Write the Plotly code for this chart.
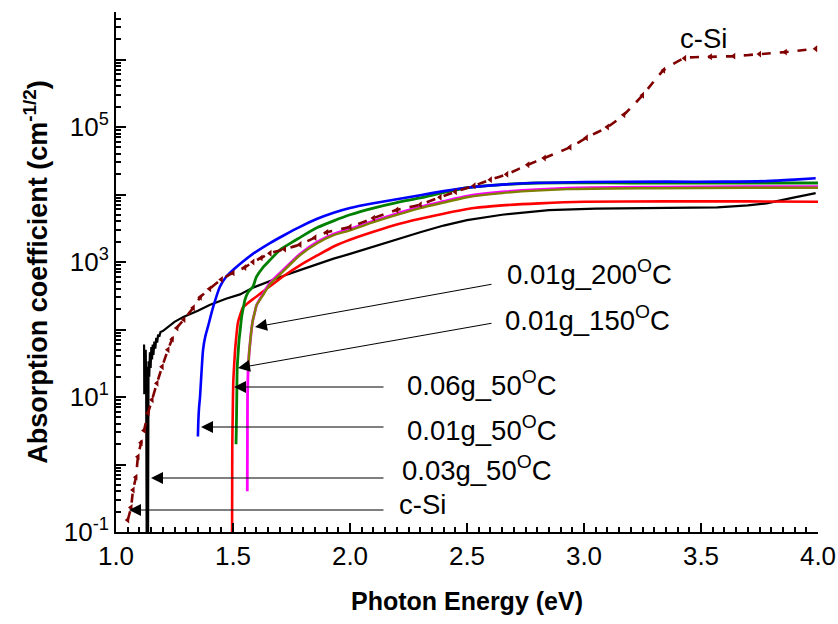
import math
import plotly.graph_objects as go

# ---------------- data (photon energy in eV, absorption coefficient) ----------------
csi_E = [1.050, 1.064, 1.073, 1.085, 1.094, 1.107, 1.120, 1.137, 1.154, 1.175, 1.197,
         1.222, 1.240, 1.260, 1.290, 1.330, 1.360, 1.400, 1.450, 1.500, 1.550, 1.585,
         1.620, 1.658, 1.720, 1.786, 1.850, 1.900, 2.000, 2.100, 2.200, 2.300, 2.385,
         2.450, 2.530, 2.600, 2.670, 2.760, 2.830, 2.940, 3.010, 3.100, 3.170, 3.250,
         3.340, 3.430, 3.540, 3.640, 3.750, 3.860, 3.990]
csi_a = [0.15, 0.23, 0.42, 0.65, 1.3, 2.1, 3.2, 5.8, 9.1, 16, 28,
         50, 72, 105, 140, 210, 300, 400, 550, 690, 830, 1000,
         1150, 1350, 1550, 1820, 2300, 2750, 3300, 4470, 5900, 7080, 9120,
         10960, 13490, 16600, 19950, 27540, 34670, 50120, 69180, 100000, 151400, 295100,
         691800, 1047000, 1096000, 1122000, 1202000, 1288000, 1445000]

g003_E = [1.120, 1.121, 1.123, 1.125, 1.127, 1.129, 1.131, 1.133, 1.134, 1.136, 1.137,
          1.139, 1.142, 1.145, 1.148, 1.151, 1.154, 1.157, 1.160, 1.164, 1.168, 1.172,
          1.176, 1.180, 1.185, 1.190, 1.200, 1.250, 1.290, 1.350, 1.400, 1.470, 1.530,
          1.585, 1.658, 1.720, 1.786, 1.850, 1.930, 2.000, 2.100, 2.200, 2.300, 2.400,
          2.500, 2.650, 2.850, 3.050, 3.210, 3.400, 3.570, 3.700, 3.780, 3.890, 3.990]
g003_a = [60, 11, 42, 18, 50, 14, 0.1, 28, 0.1, 22, 0.1,
          34, 20, 46, 27, 55, 36, 60, 42, 66, 52, 75,
          64, 84, 78, 92, 95, 130, 155, 190, 230, 285, 331,
          417, 525, 631, 759, 912, 1122, 1318, 1698, 2188, 2754, 3467,
          4169, 5012, 5888, 6200, 6300, 6300, 6460, 6900, 7400, 8900, 10500]

g001_50_E = [1.350, 1.352, 1.355, 1.359, 1.365, 1.372, 1.382, 1.393, 1.415, 1.444, 1.470,
             1.500, 1.540, 1.585, 1.658, 1.720, 1.786, 1.860, 1.930, 2.000, 2.100, 2.200,
             2.300, 2.400, 2.500, 2.650, 2.780, 3.000, 3.350, 3.600, 3.780, 3.900, 3.990]
g001_50_a = [2.6, 4.5, 7, 10, 22, 50, 80, 110, 214, 430, 600,
             760, 1000, 1318, 1905, 2512, 3311, 4365, 5370, 6310, 7413, 8511,
             9772, 11220, 12590, 14000, 14800, 15300, 15500, 15500, 15800, 16600, 17400]

g006_50_E = [1.496, 1.4965, 1.497, 1.499, 1.501, 1.505, 1.509, 1.515, 1.521, 1.532, 1.543,
             1.560, 1.585, 1.620, 1.658, 1.720, 1.786, 1.860, 1.930, 2.000, 2.100, 2.200,
             2.300, 2.400, 2.530, 2.650, 2.810, 3.000, 3.350, 3.700, 4.000]
g006_50_a = [0.1, 0.5, 2.0, 6, 16, 30, 50, 85, 126, 170, 214,
             240, 282, 347, 437, 631, 891, 1250, 1700, 2140, 2800, 3600,
             4370, 5200, 6300, 6900, 7400, 7800, 7900, 7900, 7800]

g001_150_E = [1.513, 1.515, 1.516, 1.518, 1.522, 1.526, 1.531, 1.537, 1.544, 1.551, 1.565,
              1.585, 1.600, 1.630, 1.658, 1.700, 1.786, 1.860, 1.930, 2.000, 2.100, 2.200,
              2.300, 2.400, 2.500, 2.650, 2.800, 3.200, 3.600, 4.000]
g001_150_a = [2.0, 5, 9, 27, 45, 70, 100, 155, 210, 275, 360,
              430, 600, 850, 1070, 1500, 2300, 3236, 4074, 5012, 6300, 7600,
              8900, 10700, 12600, 14000, 14800, 14800, 14800, 14800]

mag_E = [1.561, 1.5615, 1.562, 1.563, 1.565, 1.569, 1.573, 1.579, 1.585, 1.593, 1.601,
         1.630, 1.658, 1.700, 1.786, 1.860, 1.930, 2.000, 2.100, 2.200, 2.300, 2.400,
         2.500, 2.650, 2.930, 3.300, 3.700, 4.000]
mag_a = [0.4, 1.5, 9, 15, 27, 45, 63, 100, 138, 180, 230,
         345, 490, 680, 1310, 1980, 2600, 3070, 4050, 5200, 6550, 7900,
         9450, 10900, 12450, 12900, 13100, 13100]

g001_200_E = [1.565, 1.569, 1.573, 1.579, 1.585, 1.593, 1.601, 1.630, 1.658, 1.700, 1.786,
              1.860, 1.930, 2.000, 2.100, 2.200, 2.300, 2.400, 2.500, 2.650, 2.930, 3.300,
              3.700, 4.000]
g001_200_a = [27, 45, 63, 100, 138, 180, 230, 330, 470, 650, 1260,
              1900, 2500, 2950, 3900, 5000, 6300, 7600, 9100, 10500, 12000, 12400,
              12600, 12600]

x_ticks = [1.0, 1.5, 2.0, 2.5, 3.0, 3.5, 4.0]
x_ticktext = ["1.0", "1.5", "2.0", "2.5", "3.0", "3.5", "4.0"]
y_ticks = [0.1, 1, 10, 100, 1e3, 1e4, 1e5, 1e6]
y_ticktext = ["10<sup>-1</sup>", "", "10<sup>1</sup>", "", "10<sup>3</sup>", "", "10<sup>5</sup>", ""]

labels = ["0.01g_200<sup>O</sup>C", "0.01g_150<sup>O</sup>C", "0.06g_50<sup>O</sup>C",
          "0.01g_50<sup>O</sup>C", "0.03g_50<sup>O</sup>C", "c-Si"]

# ---------------- figure ----------------
FONT = "Liberation Sans, Arial, sans-serif"
fig = go.Figure()

def add(E, a, color, width, name, shape="spline"):
    fig.add_trace(go.Scatter(x=E, y=a, mode="lines", name=name,
                             line=dict(color=color, width=width, shape=shape, smoothing=0.6),
                             showlegend=False))

add(g003_E, g003_a, "black", 2.2, "0.03g_50C", shape="linear")
add(g006_50_E, g006_50_a, "#ff0000", 2.6, "0.06g_50C")
add(mag_E, mag_a, "#ff00ff", 2.8, "magenta")
add(g001_200_E, g001_200_a, "#808000", 2.4, "0.01g_200C")
add(g001_150_E, g001_150_a, "#008000", 2.8, "0.01g_150C")
add(g001_50_E, g001_50_a, "#0000ff", 2.6, "0.01g_50C")
fig.add_trace(go.Scatter(x=csi_E, y=csi_a, mode="lines+markers", name="c-Si",
                         line=dict(color="#800000", width=2.6, dash="dash",
                                   shape="spline", smoothing=0.6),
                         marker=dict(symbol="triangle-left", size=6, color="#800000"),
                         showlegend=False))

# pixel -> data helpers for label placement (plot box 116..818 x 12..532)
def ex(px):
    return 1.0 + (px - 116) / 234.0

def ly(py):
    return (532 - py) / 67.5 - 1.0

# arrows: (tip px, tail px)
arrows = [((255, 327), (493, 284)),
          ((238, 368), (493, 323)),
          ((234, 387), (385, 387)),
          ((201, 427), (385, 427)),
          ((151, 478), (385, 478)),
          ((129, 510), (385, 510))]
texts = [(505, 272), (503, 318), (405, 383), (405, 428), (400, 468), (397, 504)]

for (tip, tail) in arrows:
    fig.add_annotation(x=ex(tip[0]), y=ly(tip[1]), xref="x", yref="y",
                       ax=ex(tail[0]), ay=ly(tail[1]), axref="x", ayref="y",
                       text="", showarrow=True, arrowhead=2, arrowsize=2.4,
                       arrowwidth=1, arrowcolor="black")
for lab, (px, py) in zip(labels, texts):
    fig.add_annotation(x=ex(px), y=ly(py), xref="x", yref="y", text=lab,
                       showarrow=False, xanchor="left", yanchor="middle",
                       font=dict(family=FONT, size=27.5, color="black"))
fig.add_annotation(x=ex(678), y=ly(38), xref="x", yref="y", text="c-Si",
                   showarrow=False, xanchor="left", yanchor="middle",
                   font=dict(family=FONT, size=27.5, color="black"))

minor_y = [m * 10 ** d for d in range(-1, 7) for m in range(2, 10)]

fig.update_layout(
    width=838, height=624,
    margin=dict(l=116, r=20, t=12, b=92),
    paper_bgcolor="white", plot_bgcolor="white",
    font=dict(family=FONT, size=26, color="black"),
    xaxis=dict(range=[1.0, 4.0], tickvals=x_ticks, ticktext=x_ticktext,
               ticks="inside", ticklen=9, tickwidth=2, tickcolor="black",
               showline=True, linewidth=2, linecolor="black", showgrid=False,
               zeroline=False, mirror=False, automargin=False,
               tickfont=dict(family=FONT, size=26),
               minor=dict(dtick=0.05, ticks="inside", ticklen=5, tickwidth=1.5,
                          tickcolor="black", showgrid=False),
               title=dict(text="Photon Energy (eV)", standoff=22,
                          font=dict(family=FONT, size=25, weight="bold"))),
    yaxis=dict(type="log", range=[-1.0, 6.704], tickvals=y_ticks, ticktext=y_ticktext,
               ticks="inside", ticklen=10, tickwidth=2, tickcolor="black",
               showline=True, linewidth=2, linecolor="black", showgrid=False,
               zeroline=False, mirror=False, automargin=False,
               tickfont=dict(family=FONT, size=26),
               minor=dict(tickvals=minor_y, ticks="inside", ticklen=5, tickwidth=1.5,
                          tickcolor="black", showgrid=False),
               title=dict(text="Absorption coefficient (cm<sup>-1/2</sup>)", standoff=8,
                          font=dict(family=FONT, size=27, weight="bold"))),
)

fig.write_html("out.html")
